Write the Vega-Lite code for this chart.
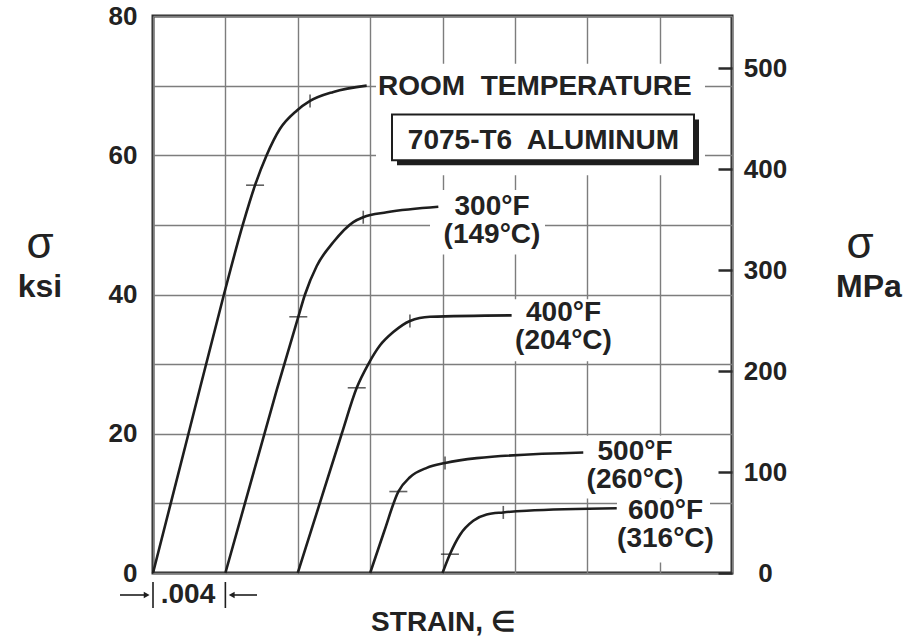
{
  "$schema": "https://vega.github.io/schema/vega-lite/v6.json",
  "width": 579,
  "height": 557,
  "autosize": {"type": "none"},
  "padding": {"left": 153, "top": 16, "right": 177, "bottom": 67},
  "background": "#ffffff",
  "config": {"view": {"stroke": "#2a2a2a", "strokeWidth": 3}, "font": "Liberation Sans"},
  "datasets": {
    "curves": [
      {"temp": "RT", "strain": 0, "ksi": 0},
      {"temp": "RT", "strain": 0.00196, "ksi": 20},
      {"temp": "RT", "strain": 0.00392, "ksi": 40},
      {"temp": "RT", "strain": 0.00496, "ksi": 50},
      {"temp": "RT", "strain": 0.00564, "ksi": 55.7},
      {"temp": "RT", "strain": 0.00628, "ksi": 60},
      {"temp": "RT", "strain": 0.00702, "ksi": 63.8},
      {"temp": "RT", "strain": 0.00794, "ksi": 66.4},
      {"temp": "RT", "strain": 0.00868, "ksi": 67.8},
      {"temp": "RT", "strain": 0.00997, "ksi": 69.1},
      {"temp": "RT", "strain": 0.01181, "ksi": 70},
      {"temp": "300F", "strain": 0.004, "ksi": 0},
      {"temp": "300F", "strain": 0.00684, "ksi": 26.3},
      {"temp": "300F", "strain": 0.00803, "ksi": 36.8},
      {"temp": "300F", "strain": 0.0084, "ksi": 40.0},
      {"temp": "300F", "strain": 0.00905, "ksi": 44.1},
      {"temp": "300F", "strain": 0.00996, "ksi": 47.5},
      {"temp": "300F", "strain": 0.01107, "ksi": 50.4},
      {"temp": "300F", "strain": 0.01162, "ksi": 51.1},
      {"temp": "300F", "strain": 0.01292, "ksi": 51.8},
      {"temp": "300F", "strain": 0.01577, "ksi": 52.6},
      {"temp": "400F", "strain": 0.008, "ksi": 0},
      {"temp": "400F", "strain": 0.01043, "ksi": 20},
      {"temp": "400F", "strain": 0.01126, "ksi": 26.6},
      {"temp": "400F", "strain": 0.0119, "ksi": 30.0},
      {"temp": "400F", "strain": 0.01255, "ksi": 32.7},
      {"temp": "400F", "strain": 0.01328, "ksi": 34.6},
      {"temp": "400F", "strain": 0.0142, "ksi": 36.2},
      {"temp": "400F", "strain": 0.01531, "ksi": 36.8},
      {"temp": "400F", "strain": 0.01982, "ksi": 37.0},
      {"temp": "500F", "strain": 0.012, "ksi": 0},
      {"temp": "500F", "strain": 0.01278, "ksi": 6.0},
      {"temp": "500F", "strain": 0.01356, "ksi": 11.7},
      {"temp": "500F", "strain": 0.0142, "ksi": 13.75},
      {"temp": "500F", "strain": 0.01513, "ksi": 15.1},
      {"temp": "500F", "strain": 0.01614, "ksi": 15.8},
      {"temp": "500F", "strain": 0.01789, "ksi": 16.5},
      {"temp": "500F", "strain": 0.02378, "ksi": 17.3},
      {"temp": "600F", "strain": 0.016, "ksi": 0},
      {"temp": "600F", "strain": 0.01641, "ksi": 2.7},
      {"temp": "600F", "strain": 0.01697, "ksi": 5.5},
      {"temp": "600F", "strain": 0.0177, "ksi": 7.5},
      {"temp": "600F", "strain": 0.01844, "ksi": 8.4},
      {"temp": "600F", "strain": 0.01936, "ksi": 8.7},
      {"temp": "600F", "strain": 0.02065, "ksi": 8.95},
      {"temp": "600F", "strain": 0.02563, "ksi": 9.3}
    ],
    "curveMarks": [
      {"temp": "RT", "kind": "h", "strain": 0.00564, "ksi": 55.7},
      {"temp": "300F", "kind": "h", "strain": 0.00803, "ksi": 36.8},
      {"temp": "400F", "kind": "h", "strain": 0.01126, "ksi": 26.6},
      {"temp": "500F", "kind": "h", "strain": 0.01356, "ksi": 11.7},
      {"temp": "600F", "kind": "h", "strain": 0.01641, "ksi": 2.7},
      {"temp": "RT", "kind": "v", "strain": 0.00868, "ksi": 67.8},
      {"temp": "300F", "kind": "v", "strain": 0.01162, "ksi": 51.1},
      {"temp": "400F", "kind": "v", "strain": 0.0142, "ksi": 36.2},
      {"temp": "500F", "kind": "v", "strain": 0.01614, "ksi": 15.8},
      {"temp": "600F", "kind": "v", "strain": 0.01936, "ksi": 8.7}
    ],
    "masks": [
      {"s0": 0.012325, "s1": 0.030507, "k0": 73.13, "k1": 57.14},
      {"s0": 0.015309, "s1": 0.021665, "k0": 55.0, "k1": 45.74},
      {"s0": 0.01973, "s1": 0.026086, "k0": 39.31, "k1": 30.42},
      {"s0": 0.023764, "s1": 0.029678, "k0": 19.72, "k1": 10.69},
      {"s0": 0.025644, "s1": 0.030784, "k0": 10.69, "k1": 1.52}
    ],
    "box": [
      {"s0": 0.013209, "s1": 0.0299, "k0": 65.86, "k1": 59.29}
    ],
    "labels": [
      {"role": "curve", "t": "300°F\n(149°C)", "s": 0.018736, "k": 51.47},
      {"role": "curve", "t": "400°F\n(204°C)", "s": 0.022688, "k": 36.21},
      {"role": "curve", "t": "500°F\n(260°C)", "s": 0.026639, "k": 16.29},
      {"role": "curve", "t": "600°F\n(316°C)", "s": 0.028325, "k": 7.77},
      {"role": "curve", "t": "7075-T6\u00a0 ALUMINUM", "s": 0.021581, "k": 60.9},
      {"role": "curve", "t": ".004", "s": 0.001934, "k": -4.31},
      {"role": "lead", "t": "ROOM\u00a0 TEMPERATURE", "s": 0.012435, "k": 68.71},
      {"role": "symbol", "t": "σ", "s": -0.006245, "k": 45.24},
      {"role": "symbol", "t": "σ", "s": 0.039074, "k": 45.24},
      {"role": "unit", "t": "ksi", "s": -0.006245, "k": 39.68},
      {"role": "unit", "t": "MPa", "s": 0.039571, "k": 39.68}
    ],
    "dims": [
      {"s0": 0, "s1": 0, "k0": -1.29, "k1": -5.03},
      {"s0": 0.004, "s1": 0.004, "k0": -1.29, "k1": -5.03},
      {"s0": -0.001824, "s1": -0.0004, "k0": -3.16, "k1": -3.16},
      {"s0": 0.0044, "s1": 0.005748, "k0": -3.16, "k1": -3.16}
    ],
    "heads": [
      {"s": -0.00035, "k": -3.16, "dir": "right"},
      {"s": 0.00435, "k": -3.16, "dir": "left"}
    ]
  },
  "layer": [
    {
      "layer": [
        {
          "data": {"name": "masks"},
          "mark": {"type": "rect", "fill": "#ffffff", "strokeWidth": 0},
          "encoding": {
            "x": {
              "field": "s0", "type": "quantitative",
              "scale": {"domain": [0, 0.032], "nice": false, "zero": false},
              "axis": {
                "values": [0, 0.004, 0.008, 0.012, 0.016, 0.02, 0.024, 0.028, 0.032],
                "labels": false, "ticks": false, "domain": false, "grid": true,
                "gridColor": "#7d7d7d", "gridWidth": 1.4,
                "title": "STRAIN, ∈", "titleFont": "Liberation Sans", "titleFontSize": 28,
                "titleFontWeight": "bold", "titleColor": "#222222", "titlePadding": 35
              }
            },
            "x2": {"field": "s1"},
            "y": {
              "field": "k0", "type": "quantitative",
              "scale": {"domain": [0, 80], "nice": false, "zero": false},
              "axis": {
                "values": [0, 10, 20, 30, 40, 50, 60, 70, 80],
                "labelExpr": "datum.value % 20 == 0 ? datum.label : ''",
                "ticks": false, "domain": false, "grid": true,
                "gridColor": "#7d7d7d", "gridWidth": 1.4,
                "labelFont": "Liberation Sans", "labelFontSize": 26, "labelFontWeight": "bold",
                "labelColor": "#222222", "labelPadding": 16, "labelFlush": false,
                "labelOverlap": false, "title": null
              }
            },
            "y2": {"field": "k1"}
          }
        },
        {
          "data": {"name": "curves"},
          "mark": {"type": "line", "color": "#1e1e1e", "strokeWidth": 2.6, "interpolate": "monotone"},
          "encoding": {
            "x": {"field": "strain", "type": "quantitative"},
            "y": {"field": "ksi", "type": "quantitative"},
            "detail": {"field": "temp"}
          }
        },
        {
          "data": {"name": "curveMarks"},
          "transform": [{"filter": "datum.kind == 'h'"}],
          "mark": {"type": "tick", "orient": "horizontal", "color": "#1e1e1e", "size": 18, "thickness": 1.6},
          "encoding": {
            "x": {"field": "strain", "type": "quantitative"},
            "y": {"field": "ksi", "type": "quantitative"}
          }
        },
        {
          "data": {"name": "curveMarks"},
          "transform": [{"filter": "datum.kind == 'v'"}],
          "mark": {"type": "tick", "orient": "vertical", "color": "#1e1e1e", "size": 13, "thickness": 1.6},
          "encoding": {
            "x": {"field": "strain", "type": "quantitative"},
            "y": {"field": "ksi", "type": "quantitative"}
          }
        },
        {
          "data": {"name": "box"},
          "mark": {"type": "rect", "fill": "#1e1e1e", "xOffset": 5, "x2Offset": 5, "yOffset": 5, "y2Offset": 5},
          "encoding": {
            "x": {"field": "s0", "type": "quantitative"},
            "x2": {"field": "s1"},
            "y": {"field": "k0", "type": "quantitative"},
            "y2": {"field": "k1"}
          }
        },
        {
          "data": {"name": "box"},
          "mark": {"type": "rect", "fill": "#ffffff", "stroke": "#1e1e1e", "strokeWidth": 2},
          "encoding": {
            "x": {"field": "s0", "type": "quantitative"},
            "x2": {"field": "s1"},
            "y": {"field": "k0", "type": "quantitative"},
            "y2": {"field": "k1"}
          }
        },
        {
          "data": {"name": "dims"},
          "mark": {"type": "rule", "color": "#1e1e1e", "strokeWidth": 1.6},
          "encoding": {
            "x": {"field": "s0", "type": "quantitative"},
            "x2": {"field": "s1"},
            "y": {"field": "k0", "type": "quantitative"},
            "y2": {"field": "k1"}
          }
        },
        {
          "data": {"name": "heads"},
          "mark": {"type": "point", "filled": true, "color": "#1e1e1e", "size": 45, "opacity": 1},
          "encoding": {
            "x": {"field": "s", "type": "quantitative"},
            "y": {"field": "k", "type": "quantitative"},
            "shape": {"field": "dir", "type": "nominal", "scale": {"domain": ["right", "left"], "range": ["triangle-right", "triangle-left"]}, "legend": null}
          }
        },
        {
          "data": {"name": "labels"},
          "transform": [{"filter": "datum.role == 'curve'"}],
          "mark": {"type": "text", "align": "center", "baseline": "alphabetic", "lineBreak": "\n", "lineHeight": 28.5, "font": "Liberation Sans", "fontSize": 28, "fontWeight": "bold", "color": "#222222"},
          "encoding": {
            "x": {"field": "s", "type": "quantitative"},
            "y": {"field": "k", "type": "quantitative"},
            "text": {"field": "t"}
          }
        },
        {
          "data": {"name": "labels"},
          "transform": [{"filter": "datum.role == 'lead'"}],
          "mark": {"type": "text", "align": "left", "baseline": "alphabetic", "font": "Liberation Sans", "fontSize": 28, "fontWeight": "bold", "color": "#222222"},
          "encoding": {
            "x": {"field": "s", "type": "quantitative"},
            "y": {"field": "k", "type": "quantitative"},
            "text": {"field": "t"}
          }
        },
        {
          "data": {"name": "labels"},
          "transform": [{"filter": "datum.role == 'symbol'"}],
          "mark": {"type": "text", "align": "center", "baseline": "alphabetic", "font": "Liberation Sans", "fontSize": 44, "fontWeight": "normal", "color": "#222222"},
          "encoding": {
            "x": {"field": "s", "type": "quantitative"},
            "y": {"field": "k", "type": "quantitative"},
            "text": {"field": "t"}
          }
        },
        {
          "data": {"name": "labels"},
          "transform": [{"filter": "datum.role == 'unit'"}],
          "mark": {"type": "text", "align": "center", "baseline": "alphabetic", "font": "Liberation Sans", "fontSize": 32, "fontWeight": "bold", "color": "#222222"},
          "encoding": {
            "x": {"field": "s", "type": "quantitative"},
            "y": {"field": "k", "type": "quantitative"},
            "text": {"field": "t"}
          }
        }
      ]
    },
    {
      "data": {"values": [{"mpa": 0}, {"mpa": 551.58}]},
      "mark": {"type": "point", "opacity": 0},
      "encoding": {
        "y": {
          "field": "mpa", "type": "quantitative",
          "scale": {"domain": [0, 551.58], "nice": false, "zero": false},
          "axis": {
            "orient": "right", "values": [0, 100, 200, 300, 400, 500],
            "grid": false, "domain": false, "ticks": true, "tickSize": -14,
            "tickWidth": 2.5, "tickColor": "#2a2a2a",
            "labelAlign": "center", "labelPadding": 47,
            "labelFont": "Liberation Sans", "labelFontSize": 26, "labelFontWeight": "bold",
            "labelColor": "#222222", "labelFlush": false, "labelOverlap": false, "title": null
          }
        }
      }
    }
  ],
  "resolve": {"scale": {"y": "independent"}, "axis": {"y": "independent"}}
}
